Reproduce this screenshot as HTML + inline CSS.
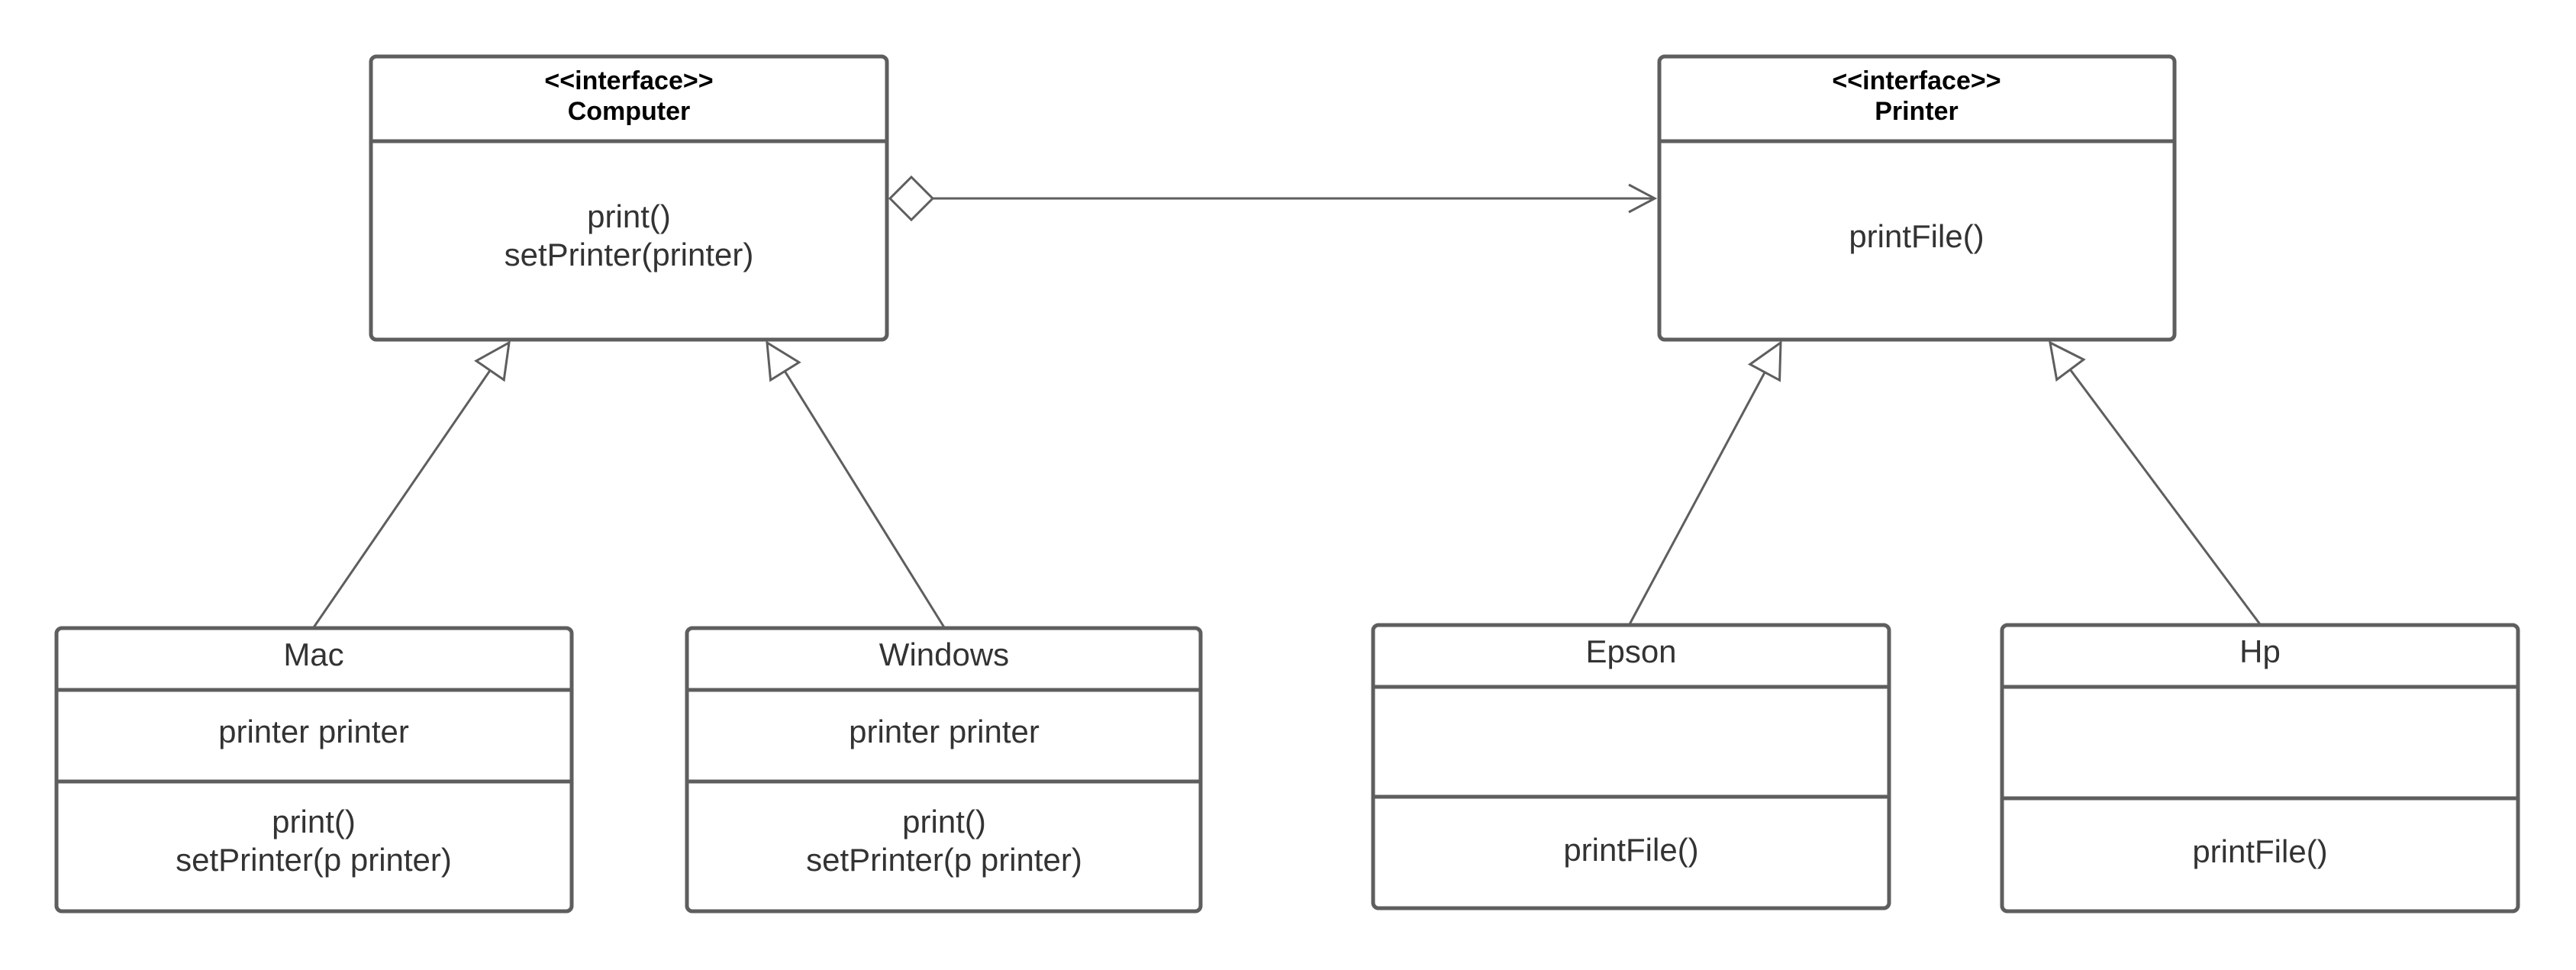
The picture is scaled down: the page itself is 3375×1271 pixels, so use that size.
<!DOCTYPE html>
<html><head><meta charset="utf-8"><style>
html,body{margin:0;padding:0;background:#fff;}
svg{display:block;}
text{font-family:"Liberation Sans",sans-serif;fill:#333;text-anchor:middle;}
.b{font-weight:bold;font-size:34px;fill:#000;}
.t{font-size:42px;}
.box{fill:#fff;stroke:#5e5e5e;stroke-width:5;}
.d{stroke:#5e5e5e;stroke-width:5;}
.c{stroke:#5e5e5e;stroke-width:3;fill:none;}
</style></head><body>
<svg width="3375" height="1271" viewBox="0 0 3375 1271">
<defs>
<marker id="tri" markerUnits="userSpaceOnUse" markerWidth="60" markerHeight="60" refX="46" refY="25" orient="auto">
<path d="M2,3 L46,25 L2,47 Z" fill="#fff" stroke="#5e5e5e" stroke-width="3"/>
</marker>
<marker id="dia" markerUnits="userSpaceOnUse" markerWidth="64" markerHeight="64" refX="2" refY="30" orient="auto">
<path d="M2,30 L30,2 L58,30 L30,58 Z" fill="#fff" stroke="#5e5e5e" stroke-width="3"/>
</marker>
<marker id="open" markerUnits="userSpaceOnUse" markerWidth="40" markerHeight="44" refX="36" refY="22" orient="auto">
<path d="M2,4 L36,22 L2,40" fill="none" stroke="#5e5e5e" stroke-width="3"/>
</marker>
</defs>

<line class="c" x1="1166" y1="260" x2="2168" y2="260" marker-start="url(#dia)" marker-end="url(#open)"/>
<line class="c" x1="411" y1="822" x2="667" y2="449" marker-end="url(#tri)"/>
<line class="c" x1="1237" y1="822" x2="1005" y2="449" marker-end="url(#tri)"/>
<line class="c" x1="2135" y1="818" x2="2333" y2="449" marker-end="url(#tri)"/>
<line class="c" x1="2961" y1="818" x2="2686" y2="449" marker-end="url(#tri)"/>

<rect class="box" x="486" y="74" width="676" height="371" rx="7"/>
<line class="d" x1="486" y1="185" x2="1162" y2="185"/>
<text class="b" x="824" y="117">&lt;&lt;interface&gt;&gt;</text>
<text class="b" x="824" y="157">Computer</text>
<text class="t" x="824" y="298">print()</text>
<text class="t" x="824" y="348">setPrinter(printer)</text>

<rect class="box" x="2174" y="74" width="675" height="371" rx="7"/>
<line class="d" x1="2174" y1="185" x2="2849" y2="185"/>
<text class="b" x="2511" y="117">&lt;&lt;interface&gt;&gt;</text>
<text class="b" x="2511" y="157">Printer</text>
<text class="t" x="2511" y="324">printFile()</text>

<rect class="box" x="74" y="823" width="675" height="371" rx="7"/>
<line class="d" x1="74" y1="904" x2="749" y2="904"/>
<line class="d" x1="74" y1="1024" x2="749" y2="1024"/>
<text class="t" x="411" y="872">Mac</text>
<text class="t" x="411" y="973">printer printer</text>
<text class="t" x="411" y="1091">print()</text>
<text class="t" x="411" y="1141">setPrinter(p printer)</text>

<rect class="box" x="900" y="823" width="673" height="371" rx="7"/>
<line class="d" x1="900" y1="904" x2="1573" y2="904"/>
<line class="d" x1="900" y1="1024" x2="1573" y2="1024"/>
<text class="t" x="1237" y="872">Windows</text>
<text class="t" x="1237" y="973">printer printer</text>
<text class="t" x="1237" y="1091">print()</text>
<text class="t" x="1237" y="1141">setPrinter(p printer)</text>

<rect class="box" x="1799" y="819" width="676" height="371" rx="7"/>
<line class="d" x1="1799" y1="900" x2="2475" y2="900"/>
<line class="d" x1="1799" y1="1044" x2="2475" y2="1044"/>
<text class="t" x="2137" y="868">Epson</text>
<text class="t" x="2137" y="1128">printFile()</text>

<rect class="box" x="2623" y="819" width="676" height="375" rx="7"/>
<line class="d" x1="2623" y1="900" x2="3299" y2="900"/>
<line class="d" x1="2623" y1="1046" x2="3299" y2="1046"/>
<text class="t" x="2961" y="868">Hp</text>
<text class="t" x="2961" y="1130">printFile()</text>
</svg>
</body></html>
